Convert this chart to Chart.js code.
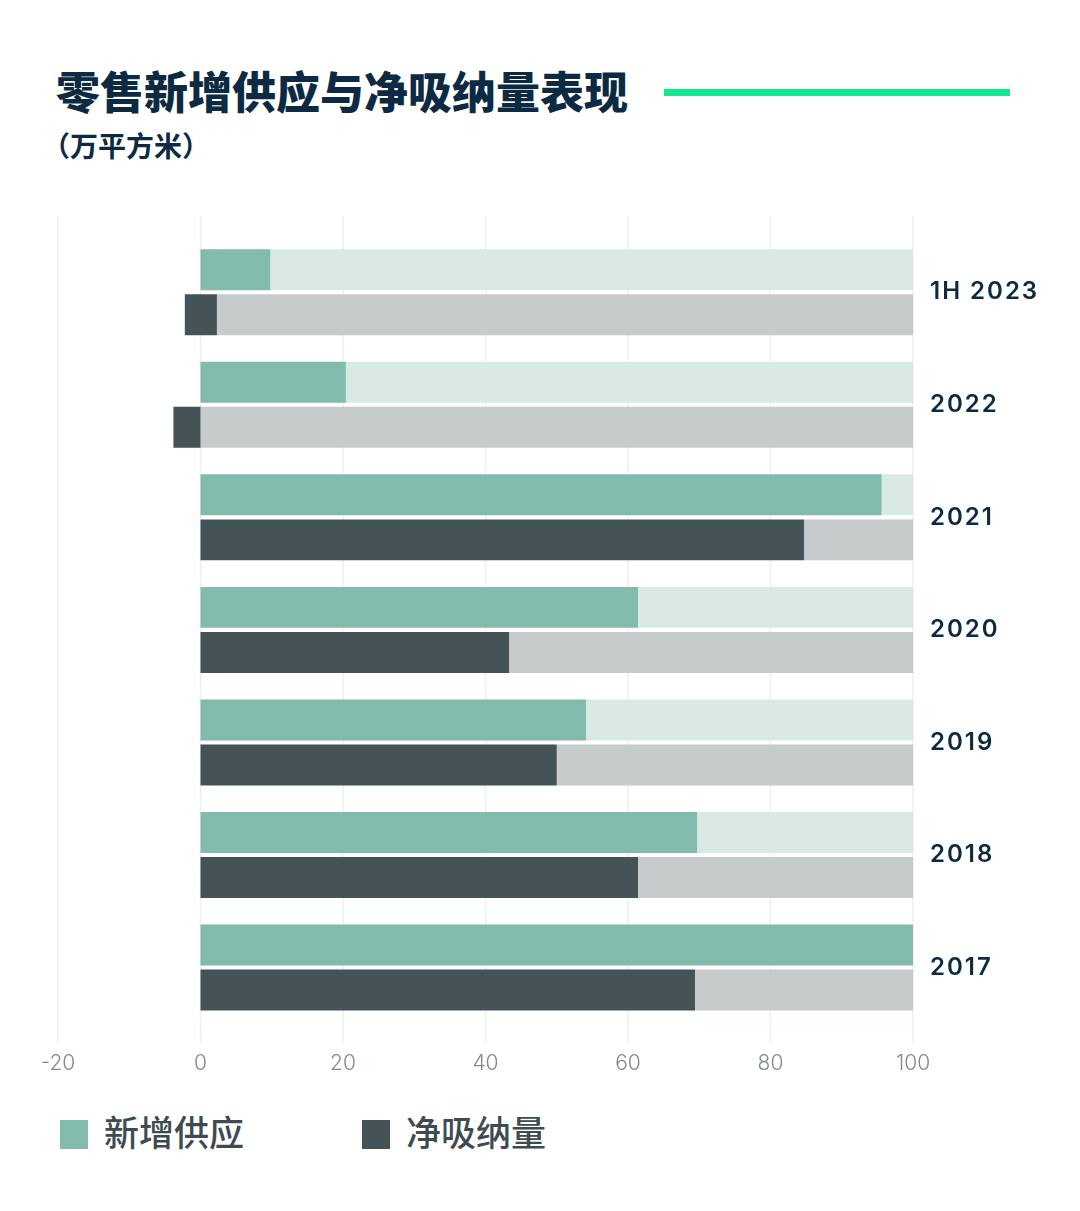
<!DOCTYPE html>
<html>
<head>
<meta charset="utf-8">
<script src="https://cdn.jsdelivr.net/npm/chart.js@4.4.0/dist/chart.umd.min.js"></script>
<style>
  body { margin: 0; background: #fff; width: 1080px; height: 1211px; position: relative; overflow: hidden; }
  .title { position: absolute; left: 56px; top: 60px; font: 900 44px "Noto Sans CJK SC", sans-serif; color: #0d2a43; white-space: nowrap; line-height: 60px; }
  .subtitle { position: absolute; left: 42px; top: 125px; font: 700 28px "Noto Sans CJK SC", sans-serif; color: #0d2a43; white-space: nowrap; line-height: 40px; }
  .accent { position: absolute; left: 664px; top: 89px; width: 346px; height: 7px; background: #17e88f; }
  #wrap { position: absolute; left: 0; top: 200px; width: 1080px; height: 903px; }
  .legend { position: absolute; top: 1110px; font: 500 35px "Noto Sans CJK SC", sans-serif; color: #3e4b51; line-height: 42px; white-space: nowrap; }
  .legend i { display: inline-block; width: 28px; height: 29px; vertical-align: -3px; margin-right: 16px; }
</style>
</head>
<body>
<div class="title">零售新增供应与净吸纳量表现</div>
<div class="subtitle">（万平方米）</div>
<div class="accent"></div>
<div id="wrap"><canvas id="chart"></canvas></div>
<div class="legend" style="left:60px"><i style="background:#82bbab"></i>新增供应</div>
<div class="legend" style="left:362px"><i style="background:#445357"></i>净吸纳量</div>
<script>
const categories = ['1H 2023', '2022', '2021', '2020', '2019', '2018', '2017'];
const supply = [9.8, 20.4, 95.6, 61.4, 54.1, 69.7, 100];
const absorbStart = [-2.2, -3.8, 0, 0, 0, 0, 0];
const absorbEnd = [2.3, 0, 84.7, 43.3, 50, 61.4, 69.4];
const xTicks = [-20, 0, 20, 40, 60, 80, 100];
const fullScale = 100;

// light vertical grid lines, a bit taller than the bar area
const gridLines = {
  id: 'gridLines',
  beforeDraw(chart) {
    chart.ctx.letterSpacing = '0px';
  },
  beforeDatasetsDraw(chart) {
    const { ctx, scales } = chart;
    ctx.save();
    ctx.strokeStyle = '#efefef';
    ctx.lineWidth = 1.5;
    xTicks.forEach((v) => {
      const x = scales.x.getPixelForValue(v);
      ctx.beginPath();
      ctx.moveTo(x, 16);
      ctx.lineTo(x, 843);
      ctx.stroke();
    });
    ctx.restore();
  },
  afterDatasetsDraw(chart) {
    // year labels (y ticks, drawn after datasets) are a bit spaced out
    chart.ctx.letterSpacing = '2px';
  },
};

const ctx = document.getElementById('chart');
const stocksChart = new Chart(ctx, {
  type: 'bar',
  data: {
    labels: categories,
    datasets: [
      {
        label: '新增供应',
        data: supply.map((v) => [0, v]),
        backgroundColor: '#82bbab',
        stack: 'supply',
      },
      {
        label: 'supplyRest',
        data: supply.map((v) => [v, fullScale]),
        backgroundColor: '#d9eae5',
        stack: 'supply',
      },
      {
        label: '净吸纳量',
        data: absorbStart.map((v, i) => [v, absorbEnd[i]]),
        backgroundColor: '#445357',
        stack: 'absorb',
      },
      {
        label: 'absorbRest',
        data: absorbEnd.map((v) => [v, fullScale]),
        backgroundColor: '#c6cbcb',
        stack: 'absorb',
      },
    ],
  },
  options: {
    indexAxis: 'y',
    responsive: true,
    maintainAspectRatio: false,
    animation: false,
    categoryPercentage: 0.8,
    barPercentage: 0.91,
    layout: { padding: { top: 36, left: 58, right: 0, bottom: 0 } },
    plugins: { legend: { display: false }, tooltip: { enabled: false } },
    scales: {
      x: {
        min: -20,
        max: 100,
        stacked: false,
        afterBuildTicks: (s) => { s.ticks = xTicks.map((v) => ({ value: v })); },
        grid: { display: false, drawTicks: false },
        border: { display: false },
        ticks: {
          padding: 27,
          color: '#7f8a91',
          font: { family: 'Inter', size: 21, weight: '300' },
        },
      },
      y: {
        position: 'right',
        grid: { display: false, drawTicks: false },
        border: { display: false },
        afterFit: (s) => { s.width = 167; },
        ticks: {
          z: 1,
          padding: 17,
          color: '#0d2a43',
          font: { family: 'Inter', size: 24, weight: '600' },
        },
      },
    },
  },
  plugins: [gridLines],
});
</script>
</body>
</html>
